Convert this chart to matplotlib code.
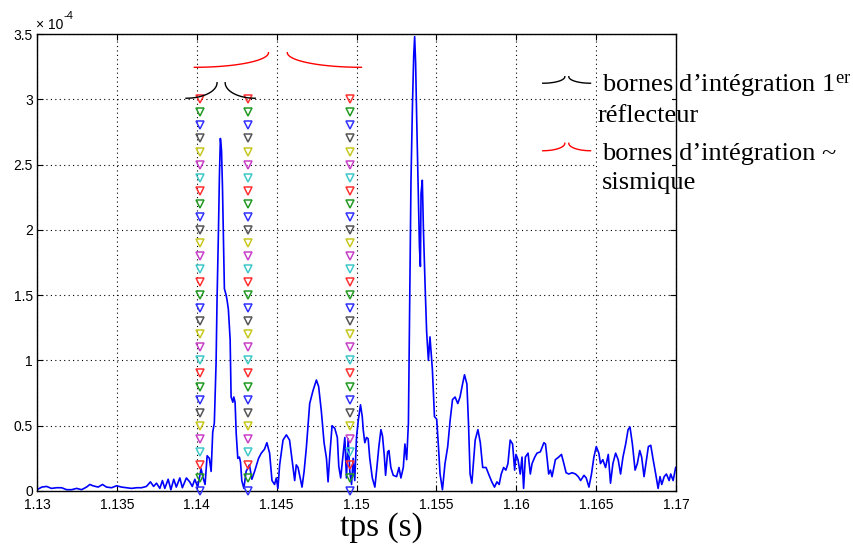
import numpy as np
import matplotlib
matplotlib.use("Agg")
import matplotlib.pyplot as plt
from matplotlib.patches import Rectangle

# --- signal (amplitude in units of 1e-4) ---
t_sig = [
    1.1300, 1.1303, 1.1306, 1.1309, 1.13123, 1.13154, 1.13186, 1.13217, 1.13248, 1.13279,
    1.1331, 1.13331, 1.1335, 1.13383, 1.1341, 1.13435, 1.13467, 1.13498, 1.13529, 1.1356,
    1.13592, 1.13623, 1.13654, 1.13685, 1.1371, 1.1373, 1.13748, 1.13769, 1.13785, 1.138,
    1.13821, 1.13838, 1.13856, 1.13872, 1.13894, 1.1391, 1.13935, 1.13956, 1.13972, 1.13988,
    1.14006, 1.14027, 1.1404, 1.14052, 1.14065, 1.14079, 1.1409, 1.141, 1.1411, 1.14121,
    1.14127, 1.14136, 1.14142, 1.14148, 1.14155, 1.14161, 1.14167, 1.14173, 1.14184, 1.1419,
    1.14198, 1.14209, 1.14215, 1.14226, 1.14232, 1.1424, 1.14247, 1.14257, 1.14267, 1.14274,
    1.14282, 1.14295, 1.14309, 1.1433, 1.14345, 1.14362, 1.14387, 1.14404, 1.14424, 1.14439,
    1.14456, 1.14471, 1.14487, 1.14498, 1.14508, 1.14519, 1.1454, 1.14561, 1.14581, 1.14603,
    1.14613, 1.14623, 1.14634, 1.14644, 1.14659, 1.14672, 1.14686, 1.14707, 1.14728, 1.14749,
    1.14763, 1.1478, 1.14797, 1.14812, 1.14822, 1.14832, 1.14847, 1.14864, 1.1488, 1.14889,
    1.14901, 1.14917, 1.14927, 1.14937, 1.14948, 1.14958, 1.14969, 1.14979, 1.14989, 1.15,
    1.15011, 1.15025, 1.15036, 1.15042, 1.15052, 1.15063, 1.15073, 1.15083, 1.15099, 1.15115,
    1.15126, 1.1514, 1.15153, 1.15163, 1.15174, 1.15182, 1.15195, 1.15203, 1.15215, 1.1523,
    1.15251, 1.15266, 1.15278, 1.15293, 1.15303, 1.15314, 1.15325, 1.15335, 1.15341, 1.1535,
    1.15358, 1.15364, 1.1537, 1.15377, 1.15387, 1.15394, 1.154, 1.15404, 1.15412, 1.15419,
    1.15429, 1.15439, 1.1545, 1.1546, 1.15466, 1.15475, 1.15488, 1.15502, 1.15513, 1.15523,
    1.15538, 1.15554, 1.15571, 1.15586, 1.15601, 1.15617, 1.15634, 1.15648, 1.15664, 1.15676,
    1.15691, 1.15701, 1.15711, 1.15722, 1.15743, 1.1576, 1.15775, 1.1579, 1.15811, 1.15827,
    1.15847, 1.15864, 1.15879, 1.15893, 1.15906, 1.15921, 1.15935, 1.15948, 1.15962, 1.15977,
    1.1599, 1.15998, 1.16011, 1.16025, 1.16036, 1.16046, 1.16057, 1.16074, 1.16088, 1.16099,
    1.16116, 1.1613, 1.16151, 1.16173, 1.16183, 1.16194, 1.16203, 1.16214, 1.16224, 1.16235,
    1.16245, 1.16266, 1.16283, 1.16298, 1.16312, 1.16329, 1.1635, 1.16371, 1.16388, 1.16403,
    1.16424, 1.16438, 1.16455, 1.16471, 1.16486, 1.16501, 1.16517, 1.16527, 1.16542, 1.16559,
    1.16576, 1.1659, 1.16605, 1.16622, 1.16638, 1.16653, 1.16668, 1.16685, 1.167, 1.16712,
    1.16727, 1.16744, 1.16758, 1.16773, 1.16785, 1.168, 1.16815, 1.16827, 1.16842, 1.16857,
    1.16873, 1.16888, 1.169, 1.16911, 1.16926, 1.1694, 1.16957, 1.16967, 1.16982, 1.16998,
]
v_sig = [
    0.01, 0.03, 0.035, 0.02, 0.025, 0.025, 0.01, 0.01, 0.02, 0.01,
    0.03, 0.05, 0.04, 0.03, 0.05, 0.03, 0.025, 0.04, 0.03, 0.025,
    0.02, 0.025, 0.025, 0.035, 0.07, 0.035, 0.06, 0.02, 0.08, 0.02,
    0.09, 0.01, 0.09, 0.03, 0.10, 0.025, 0.10, 0.07, 0.035, 0.09,
    0.03, 0.17, 0.10, 0.05, 0.27, 0.25, 0.15, 0.45, 0.52, 0.98,
    1.46, 2.00, 2.42, 2.70, 2.61, 2.33, 1.92, 1.55, 1.50, 1.46,
    1.39, 1.16, 0.72, 0.68, 0.72, 0.68, 0.44, 0.25, 0.26, 0.22,
    0.08, 0.02, 0.15, 0.20, 0.09, 0.15, 0.25, 0.29, 0.32, 0.37,
    0.29, 0.08, 0.05, 0.10, 0.02, 0.20, 0.39, 0.43, 0.39, 0.18,
    0.08, 0.20, 0.18, 0.12, 0.03, 0.15, 0.33, 0.67, 0.77, 0.85,
    0.80, 0.61, 0.37, 0.25, 0.07, 0.26, 0.50, 0.48, 0.41, 0.19,
    0.10, 0.29, 0.41, 0.10, 0.40, 0.15, 0.05, 0.25, 0.08, 0.41,
    0.54, 0.66, 0.57, 0.47, 0.37, 0.41, 0.40, 0.25, 0.10, 0.03,
    0.16, 0.34, 0.47, 0.42, 0.27, 0.12, 0.30, 0.31, 0.18, 0.12,
    0.11, 0.18, 0.10, 0.18, 0.36, 0.24, 0.52, 1.72, 2.37, 2.94,
    3.33, 3.48, 3.28, 2.84, 2.28, 1.87, 1.72, 2.28, 2.38, 2.00,
    1.59, 1.22, 1.00, 1.18, 1.08, 0.93, 0.57, 0.55, 0.34, 0.13,
    0.01, 0.21, 0.34, 0.54, 0.70, 0.72, 0.67, 0.72, 0.82, 0.89,
    0.82, 0.52, 0.13, 0.06, 0.39, 0.47, 0.37, 0.18, 0.18, 0.13,
    0.07, 0.03, 0.07, 0.05, 0.13, 0.18, 0.16, 0.21, 0.39, 0.36,
    0.16, 0.28, 0.24, 0.13, 0.26, 0.02, 0.26, 0.29, 0.13, 0.21,
    0.26, 0.29, 0.30, 0.37, 0.36, 0.24, 0.13, 0.16, 0.11, 0.18,
    0.24, 0.26, 0.28, 0.21, 0.14, 0.13, 0.14, 0.13, 0.11, 0.08,
    0.12, 0.10, 0.03, 0.13, 0.26, 0.34, 0.29, 0.21, 0.24, 0.18,
    0.28, 0.06, 0.21, 0.29, 0.24, 0.13, 0.26, 0.36, 0.47, 0.49,
    0.36, 0.16, 0.21, 0.31, 0.26, 0.11, 0.24, 0.34, 0.35, 0.24,
    0.13, 0.02, 0.11, 0.05, 0.11, 0.13, 0.08, 0.13, 0.08, 0.18,
]

# --- integration markers ---
marker_times = [1.1402, 1.1432, 1.1496]
marker_levels = [3.0, 2.9, 2.8, 2.7, 2.6, 2.5, 2.4, 2.3, 2.2, 2.1, 2.0,
                 1.9, 1.8, 1.7, 1.6, 1.5, 1.4, 1.3, 1.2, 1.1, 1.0,
                 0.9, 0.8, 0.7, 0.6, 0.5, 0.4, 0.3, 0.2, 0.1, 0.0]
marker_colors = ["#ff3030", "#229a22", "#3030ff", "#555555",
                 "#c8c820", "#c840c8", "#40c8c8"]

# --- brackets: (x_low, x_high, y_low, y_high) ---
black_left = (1.13933, 1.14127, 3.008, 3.127)
black_right = (1.14178, 1.14366, 3.008, 3.127)
red_left = (1.13985, 1.14449, 3.245, 3.357)
red_right = (1.14567, 1.15031, 3.245, 3.357)
leg_black = [(1.16166, 1.16304, 3.123, 3.173), (1.16329, 1.16465, 3.123, 3.173)]
leg_red = [(1.16166, 1.16304, 2.606, 2.663), (1.16329, 1.16465, 2.606, 2.663)]

x_ticks = [1.13, 1.135, 1.14, 1.145, 1.15, 1.155, 1.16, 1.165, 1.17]
x_labels = ["1.13", "1.135", "1.14", "1.145", "1.15", "1.155", "1.16", "1.165", "1.17"]
y_ticks = [0, 0.5, 1, 1.5, 2, 2.5, 3, 3.5]
y_labels = ["0", "0.5", "1", "1.5", "2", "2.5", "3", "3.5"]

plt.rcParams["mathtext.fontset"] = "custom"
plt.rcParams["mathtext.rm"] = "Liberation Serif"
plt.rcParams["mathtext.it"] = "Liberation Serif:italic"

W, H = 854, 549
fig = plt.figure(figsize=(W / 100, H / 100), dpi=100)
ax = fig.add_axes([37 / W, 1 - 491 / H, (676 - 37) / W, (491 - 34) / H])


def brace(ax, seg, rising, color):
    # quarter ellipse: flat end at the low point, vertical end at the high point
    x0, x1, y0, y1 = seg
    th = np.linspace(0, np.pi / 2, 40)
    if rising:
        xs = x0 + (x1 - x0) * np.sin(th)
    else:
        xs = x1 - (x1 - x0) * np.sin(th)
    ys = y0 + (y1 - y0) * (1 - np.cos(th))
    ax.plot(xs, ys, color=color, lw=1.0, zorder=4, clip_on=False)


ax.plot(t_sig, v_sig, color="#0000ff", lw=1.2, zorder=2)

for tx in marker_times:
    for i, lv in enumerate(marker_levels):
        ax.plot(tx, lv, marker="v", ms=5.8, mfc="none", mew=1.1,
                mec=marker_colors[i % len(marker_colors)], zorder=3, clip_on=False)

brace(ax, black_left, True, "k")
brace(ax, black_right, False, "k")
brace(ax, red_left, True, "#ff0000")
brace(ax, red_right, False, "#ff0000")
brace(ax, leg_black[0], True, "k")
brace(ax, leg_black[1], False, "k")
brace(ax, leg_red[0], True, "#ff0000")
brace(ax, leg_red[1], False, "#ff0000")

# white box behind the legend text (hides grid lines)
ax.add_patch(Rectangle((1.16508, 2.2), 0.00465, 1.27, facecolor="white",
                       edgecolor="none", zorder=1))

ax.set_xlim(1.13, 1.17)
ax.set_ylim(0, 3.5)
ax.set_xticks(x_ticks)
ax.set_xticklabels(x_labels)
ax.set_yticks(y_ticks)
ax.set_yticklabels(y_labels)
ax.set_axisbelow(True)
ax.grid(True, color="k", linestyle=(0, (1, 3)), lw=0.8)
ax.tick_params(direction="in", length=4, top=True, right=True,
               labelsize=10, pad=3)
ax.tick_params(axis="x", pad=5)
for lab in ax.get_xticklabels() + ax.get_yticklabels():
    lab.set_fontfamily("Liberation Sans")
for sp in ax.spines.values():
    sp.set_linewidth(1.0)

# exponent label
fig.text(36 / W, 1 - 29 / H, "\u00d7 10", fontsize=10, family="Liberation Sans",
         va="baseline", ha="left")
fig.text(64 / W, 1 - 19 / H, "-4", fontsize=8, family="Liberation Sans",
         va="baseline", ha="left")

# legend texts
serif = "Liberation Serif"
fs_leg = 19
fig.text(602 / W, 1 - 92 / H, "bornes d\u2019int\u00e9gration 1$^{\\mathrm{er}}$",
         fontsize=fs_leg, family=serif, va="baseline")
fig.text(598 / W, 1 - 122 / H, "r\u00e9flecteur", fontsize=fs_leg, family=serif, va="baseline")
fig.text(602 / W, 1 - 160 / H, "bornes d\u2019int\u00e9gration ~", fontsize=fs_leg,
         family=serif, va="baseline")
fig.text(602 / W, 1 - 189 / H, "sismique", fontsize=fs_leg, family=serif, va="baseline")

fig.text(381 / W, 1 - 528 / H, "tps (s)", fontsize=24, family=serif,
         ha="center", va="center")

fig.savefig("out.png", dpi=100)
